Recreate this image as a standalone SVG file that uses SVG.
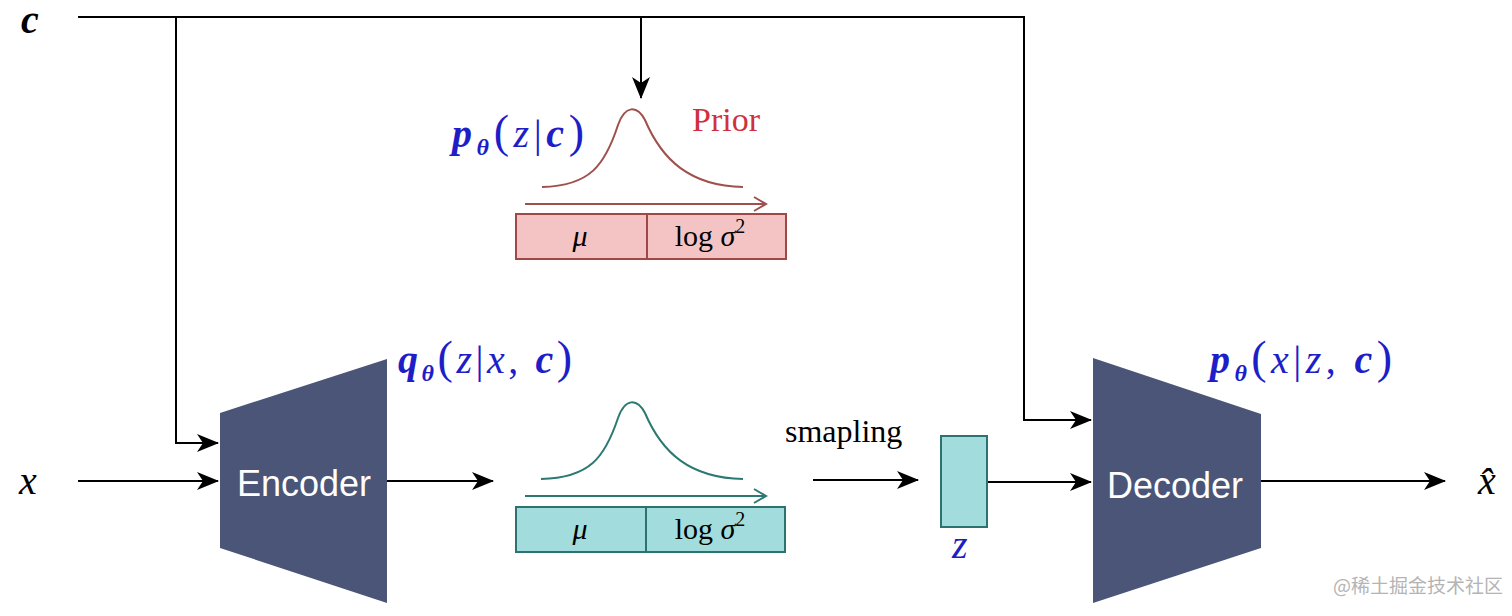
<svg xmlns="http://www.w3.org/2000/svg" width="1512" height="616" viewBox="0 0 1512 616">
<style>
.conn{fill:none;stroke:#000;stroke-width:2}
.coder{fill:#4a5578}
.ctext{font-family:"Liberation Sans",Arial,sans-serif;font-size:36px;fill:#fff;text-anchor:middle}
.math{font-family:"Liberation Serif","Times New Roman",serif;fill:#1e1ec8}
.it{font-style:italic}
.bi{font-style:italic;font-weight:bold}
.sub{font-size:24px;font-style:italic;font-weight:bold}
.par{font-size:46px}
.lbl{font-family:"Liberation Serif","Times New Roman",serif;fill:#000}
.cell{font-family:"Liberation Serif","Times New Roman",serif;font-size:30px;fill:#000;text-anchor:middle}
.tealbox{fill:#a3dcdc;stroke:#2b7270;stroke-width:2}
.pinkbox{fill:#f4c4c4;stroke:#a04848;stroke-width:2}
.tealline{fill:none;stroke:#2b7a72;stroke-width:2}
.pinkline{fill:none;stroke:#a0504c;stroke-width:2}
</style>
<defs>
<marker id="ah" markerUnits="userSpaceOnUse" viewBox="0 0 22 18" markerWidth="22" markerHeight="18" refX="21" refY="9" orient="auto">
<path d="M0,0 L22,9 L0,18 L6,9 z" fill="#000"/>
</marker>
</defs>
<rect width="1512" height="616" fill="#fff"/>

<g id="connectors">
<path class="conn" d="M78,17 H1024 V420 H1091" marker-end="url(#ah)"/>
<path class="conn" d="M176,17 V443 H218" marker-end="url(#ah)"/>
<path class="conn" d="M641,17 V98" marker-end="url(#ah)"/>
<path class="conn" d="M78,481 H218" marker-end="url(#ah)"/>
<path class="conn" d="M387,481 H493" marker-end="url(#ah)"/>
<path class="conn" d="M813,480 H918" marker-end="url(#ah)"/>
<path class="conn" d="M987,482 H1091" marker-end="url(#ah)"/>
<path class="conn" d="M1261,481 H1445" marker-end="url(#ah)"/>
</g>

<g id="input-c">
<text class="lbl bi" x="21" y="33" font-size="40">c</text>
</g>
<g id="input-x">
<text class="lbl it" x="19" y="494" font-size="40">x</text>
</g>

<g id="prior">
<text class="math" x="452" y="147" font-size="40" textLength="132" lengthAdjust="spacing"><tspan class="bi">p</tspan><tspan class="sub" dy="8">θ</tspan><tspan class="par" dy="-8">(</tspan><tspan class="it">z</tspan>|<tspan class="bi">c</tspan><tspan class="par">)</tspan></text>
<text x="692" y="131" font-family="Liberation Serif,Times New Roman,serif" font-size="34" fill="#d0303c">Prior</text>
<path class="pinkline" d="M542,187 C590,186 605,165 618,125 C625,105 637,105 645,120 C662,160 690,186 743,187"/>
<path class="pinkline" d="M525,204 H766 M754,197 L766,204 L754,211"/>
<rect class="pinkbox" x="516" y="214" width="270" height="45"/>
<line x1="647" y1="214" x2="647" y2="259" stroke="#a04848" stroke-width="2"/>
<text class="cell it" x="580" y="246">μ</text>
<text class="cell" x="710" y="246">log <tspan class="it">σ</tspan><tspan font-size="20" dy="-13">2</tspan></text>
</g>

<g id="encoder">
<polygon class="coder" points="220,413 387,359 387,603 220,548"/>
<text class="ctext" x="304" y="496">Encoder</text>
<text class="math" x="398" y="373" font-size="40" textLength="174" lengthAdjust="spacing"><tspan class="bi">q</tspan><tspan class="sub" dy="8">θ</tspan><tspan class="par" dy="-8">(</tspan><tspan class="it">z</tspan>|<tspan class="it">x</tspan>, <tspan class="bi">c</tspan><tspan class="par">)</tspan></text>
</g>

<g id="posterior">
<path class="tealline" d="M541,479 C590,478 605,457 618,418 C625,398 637,398 645,413 C662,453 690,478 743,479"/>
<path class="tealline" d="M525,496 H766 M754,489 L766,496 L754,503"/>
<rect class="tealbox" x="516" y="507" width="269" height="45"/>
<line x1="646" y1="507" x2="646" y2="552" stroke="#2b7270" stroke-width="2"/>
<text class="cell it" x="580" y="539">μ</text>
<text class="cell" x="710" y="539">log <tspan class="it">σ</tspan><tspan font-size="20" dy="-13">2</tspan></text>
</g>

<g id="sampling">
<text x="785" y="442" font-family="Liberation Serif,Times New Roman,serif" font-size="32" fill="#000">smapling</text>
</g>

<g id="z">
<rect class="tealbox" x="941" y="436" width="46" height="91"/>
<text class="math it" x="952" y="558" font-size="40">z</text>
</g>

<g id="decoder">
<polygon class="coder" points="1093,358 1261,414 1261,548 1093,603"/>
<text class="ctext" x="1175" y="498">Decoder</text>
<text class="math" x="1210" y="373" font-size="40" textLength="182" lengthAdjust="spacing"><tspan class="bi">p</tspan><tspan class="sub" dy="8">θ</tspan><tspan class="par" dy="-8">(</tspan><tspan class="it">x</tspan>|<tspan class="it">z</tspan>, <tspan class="bi">c</tspan><tspan class="par">)</tspan></text>
</g>

<g id="output-xhat">
<text class="lbl it" x="1478" y="494" font-size="40">x̂</text>
</g>

<g id="watermark">
<text x="1333" y="593" font-family="Noto Sans CJK SC,sans-serif" font-size="19" fill="#b4b4b4">@稀土掘金技术社区</text>
</g>
</svg>
